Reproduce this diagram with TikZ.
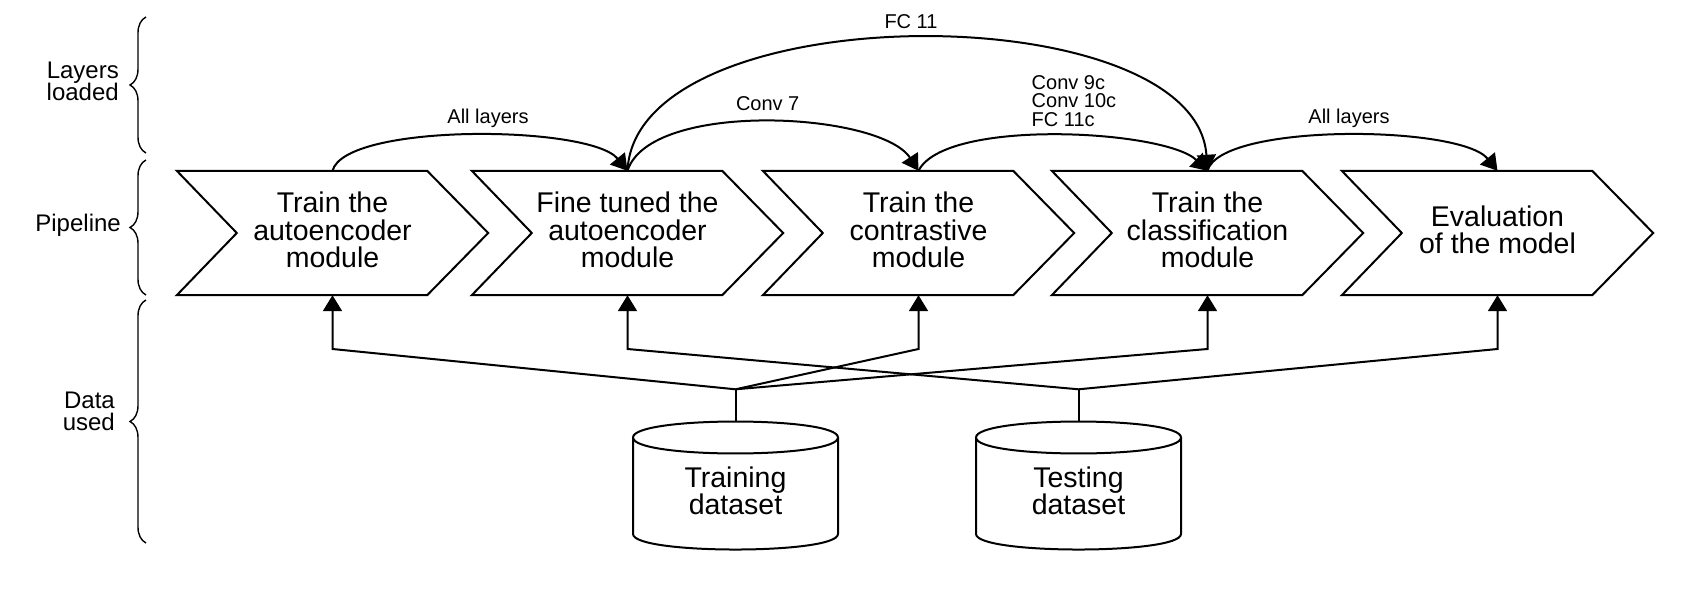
\documentclass[tikz,border=0pt]{standalone}
\usepackage{fontspec}
\setmainfont{Liberation Sans}
\usetikzlibrary{arrows.meta,decorations.pathreplacing}

% outline of a pipeline step (chevron) around a box node
\newcommand\drawchevron[1]{%
  \draw[stroke] (#1.north west) -- ([xshift=-61pt]#1.north east) -- (#1.east)
    -- ([xshift=-61pt]#1.south east) -- (#1.south west) -- ([xshift=60pt]#1.west) -- cycle;}
% outline of a database cylinder around a box node
\newcommand\drawdb[1]{%
  \begin{scope}[shift={(#1.center)}]
    \draw[stroke] (-102.5,-48) .. controls (-102.5,-69.3) and (102.5,-69.3) .. (102.5,-48)
      .. controls (102.5,-26.7) and (-102.5,-26.7) .. cycle;
    \draw[stroke] (-102.5,-48) -- (-102.5,48.5)
      .. controls (-102.5,69.2) and (102.5,69.2) .. (102.5,48.5) -- (102.5,-48);
  \end{scope}}

\begin{document}
\begin{tikzpicture}[x=1pt,y=-1pt,
  stroke/.style={line width=2pt, line join=miter},
  chevbox/.style={rectangle, minimum width=311pt, minimum height=124pt, inner sep=0pt},
  chevtext/.style={font=\fontsize{28.5}{27.2}\selectfont, align=center, inner sep=0pt},
  dbbox/.style={rectangle, minimum width=205pt, minimum height=128pt, inner sep=0pt},
  layerlbl/.style={font=\fontsize{20}{18.7}\selectfont, inner sep=0pt},
  rowlbl/.style={font=\fontsize{24}{22.4}\selectfont, align=right, inner sep=0pt},
  grouping/.style={line width=1.4pt, decorate, decoration={brace, amplitude=16pt}},
  feed/.style={stroke, -{Triangle[length=16pt,width=19pt]}},
  link/.style={stroke},
]
\useasboundingbox (0,0) rectangle (1701,591);
\fill[white] (0,0) rectangle (1701,591);

% row captions and their braces
\node[rowlbl, anchor=north east] (rowlayers) at (119,61.8) {Layers\\loaded};
\node[rowlbl, anchor=base east] (rowpipe) at (121,231.7) {Pipeline};
\node[rowlbl, anchor=north east] (rowdata) at (115,391.8) {Data\\used};
\draw[grouping] (146,153) -- (146,17);
\draw[grouping] (146,295) -- (146,160);
\draw[grouping] (146,543) -- (146,300);

% pipeline steps
\node[chevbox] (c1) at (332.5,233) {};
\node[chevbox] (c2) at (627.5,233) {};
\node[chevbox] (c3) at (918.5,233) {};
\node[chevbox] (c4) at (1207.5,233) {};
\node[chevbox] (c5) at (1497.5,233) {};
\foreach \n in {c1,c2,c3,c4,c5} {\drawchevron{\n}}
\node[chevtext] (t1) at (332.5,230) {Train the\\autoencoder\\module};
\node[chevtext] (t2) at (627.5,230) {Fine tuned the\\autoencoder\\module};
\node[chevtext] (t3) at (918.5,230) {Train the\\contrastive\\module};
\node[chevtext] (t4) at (1207.5,230) {Train the\\classification\\module};
\node[chevtext] (t5) at (1497.5,230) {Evaluation\\of the model};

% datasets
\node[dbbox] (db1) at (735.5,485.5) {};
\node[dbbox] (db2) at (1078.5,485.5) {};
\drawdb{db1}
\drawdb{db2}
\node[chevtext] (dbt1) at (735.5,491) {Training\\dataset};
\node[chevtext] (dbt2) at (1078.5,491) {Testing\\dataset};

% layer transfer between steps
\draw[feed] (c1.north) .. controls +(12.5,-48) and +(-37.5,-46) .. (c2.north);
\draw[feed] (c2.north) .. controls +(22.5,-71) and +(-38.5,-59) .. (c3.north);
\draw[feed] (c3.north) .. controls +(26.5,-53) and +(-42.5,-41) .. (c4.north);
\draw[feed] (c2.north) .. controls +(8,-177) and +(-12,-177) .. (c4.north);
\draw[feed] (c4.north) .. controls +(12.5,-48) and +(-37.5,-46) .. (c5.north);
\node[layerlbl, anchor=base] (l1) at (488,123.3) {All layers};
\node[layerlbl, anchor=base] (l2) at (767.7,111) {Conv 7};
\node[layerlbl, anchor=north west, align=left] (l3) at (1031.5,75) {Conv 9c\\Conv 10c\\FC 11c};
\node[layerlbl, anchor=base] (l4) at (911,28.3) {FC 11};
\node[layerlbl, anchor=base] (l5) at (1349,123.3) {All layers};

% data feeding the steps
\coordinate (kinkrow) at (0,349);
\coordinate (tj) at ([yshift=32pt]db1.north);
\coordinate (sj) at ([yshift=32pt]db2.north);
\draw[link] (db1.north) -- (tj);
\draw[link] (db2.north) -- (sj);
\draw[feed] (tj) -- (c1.south |- kinkrow) -- (c1.south);
\draw[feed] (tj) -- (c3.south |- kinkrow) -- (c3.south);
\draw[feed] (tj) -- (c4.south |- kinkrow) -- (c4.south);
\draw[feed] (sj) -- (c2.south |- kinkrow) -- (c2.south);
\draw[feed] (sj) -- (c5.south |- kinkrow) -- (c5.south);
\end{tikzpicture}
\end{document}
